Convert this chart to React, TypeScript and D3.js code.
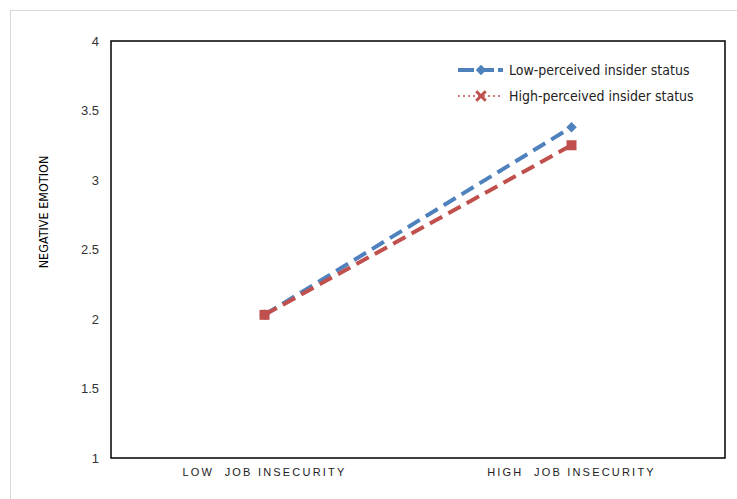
import { useEffect, useRef } from "react";
import * as d3 from "d3";

const categories = ["LOW  JOB INSECURITY", "HIGH  JOB INSECURITY"];
const lowInsider = [2.03, 3.38];
const highInsider = [2.03, 3.25];
const yTicks = [1, 1.5, 2, 2.5, 3, 3.5, 4];
const seriesNames = ["Low-perceived insider status", "High-perceived insider status"];

const width = 737,
  height = 499;
const margin = { top: 41, right: 12, bottom: 41, left: 111 };

function App() {
  const svgRef = useRef(null);

  const buildSVG = () => {
    const svg = d3.select(svgRef.current);
    svg.selectAll("*").remove();

    svg
      .append("rect")
      .attr("x", 10.5)
      .attr("y", 10.5)
      .attr("width", width)
      .attr("height", height)
      .attr("fill", "white")
      .attr("stroke", "#d9d9d9");

    const x = d3
      .scalePoint()
      .domain(categories)
      .range([margin.left, width - margin.right])
      .padding(0.5);
    const y = d3
      .scaleLinear()
      .domain([1, 4])
      .range([height - margin.bottom, margin.top]);

    const g = svg.append("g");

    g.append("rect")
      .attr("x", margin.left)
      .attr("y", margin.top)
      .attr("width", width - margin.left - margin.right)
      .attr("height", height - margin.top - margin.bottom)
      .attr("fill", "none")
      .attr("stroke", "#000")
      .attr("stroke-width", 1.5);

    g.selectAll("ytick")
      .data(yTicks)
      .enter()
      .append("text")
      .attr("x", margin.left - 12)
      .attr("y", (d) => y(d))
      .attr("dy", "0.35em")
      .attr("text-anchor", "end")
      .attr("font-family", "Liberation Sans, sans-serif")
      .attr("font-size", 13)
      .attr("fill", "#333")
      .text((d) => String(d));

    g.selectAll("xlabel")
      .data(categories)
      .enter()
      .append("text")
      .attr("x", (d) => x(d) as number)
      .attr("y", height - margin.bottom + 18)
      .attr("text-anchor", "middle")
      .attr("font-family", "Liberation Sans, sans-serif")
      .attr("font-size", 11)
      .attr("letter-spacing", 2.2)
      .attr("fill", "#222")
      .style("white-space", "pre")
      .text((d) => d);

    g.append("text")
      .attr("transform", "translate(48,212) rotate(-90)")
      .attr("text-anchor", "middle")
      .attr("font-family", "Liberation Sans Narrow, DejaVu Sans Condensed, sans-serif")
      .attr("font-size", 12.5)
      .attr("fill", "#000")
      .text("NEGATIVE EMOTION");

    const line = d3
      .line<number>()
      .x((d, i) => x(categories[i]) as number)
      .y((d) => y(d));

    const blue = "#4f81bd",
      red = "#c0504d";

    g.append("path")
      .attr("d", line(lowInsider))
      .attr("fill", "none")
      .attr("stroke", blue)
      .attr("stroke-width", 4)
      .attr("stroke-dasharray", "14,7");

    g.append("path")
      .attr("d", line(highInsider))
      .attr("fill", "none")
      .attr("stroke", red)
      .attr("stroke-width", 4)
      .attr("stroke-dasharray", "14,7");

    const diamond = d3.symbol().type(d3.symbolDiamond2).size(70);
    const square = d3.symbol().type(d3.symbolSquare).size(100);

    g.selectAll("bluemark")
      .data(lowInsider)
      .enter()
      .append("path")
      .attr("d", diamond() as string)
      .attr("transform", (d, i) => `translate(${x(categories[i])},${y(d)})`)
      .attr("fill", blue);

    g.selectAll("redmark")
      .data(highInsider)
      .enter()
      .append("path")
      .attr("d", square() as string)
      .attr("transform", (d, i) => `translate(${x(categories[i])},${y(d)})`)
      .attr("fill", red);

    // legend
    const legend = g.append("g").attr("transform", "translate(458,70)");
    const styles = [
      { color: blue, dash: "none", sym: diamond },
      { color: red, dash: "2,3", sym: d3.symbol().type(d3.symbolX).size(60) },
    ];
    seriesNames.forEach((name, i) => {
      const row = legend.append("g").attr("transform", `translate(0,${i * 26})`);
      row
        .append("line")
        .attr("x1", 0)
        .attr("x2", 45)
        .attr("stroke", styles[i].color)
        .attr("stroke-width", i === 0 ? 4 : 1.5)
        .attr("stroke-dasharray", i === 0 ? "16,4" : styles[i].dash);
      row
        .append("path")
        .attr("d", styles[i].sym() as string)
        .attr("transform", "translate(23,0)")
        .attr("fill", styles[i].color)
        .attr("stroke", styles[i].color)
        .attr("stroke-width", i === 1 ? 3 : 0);
      row
        .append("text")
        .attr("x", 51)
        .attr("dy", "0.35em")
        .attr("font-family", "Liberation Sans Narrow, DejaVu Sans Condensed, sans-serif")
        .attr("font-size", 14)
        .attr("fill", "#222")
        .text(name);
    });
  };

  useEffect(buildSVG, []);

  return (
    <svg
      ref={svgRef}
      width={width}
      height={height}
      style={{ position: "absolute", left: 0, top: 0, background: "white" }}
    ></svg>
  );
}

export default App;
